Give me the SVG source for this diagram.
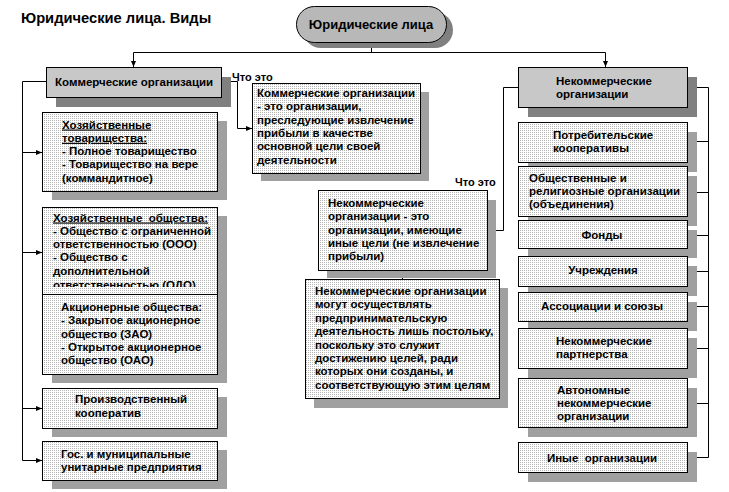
<svg xmlns="http://www.w3.org/2000/svg" width="729" height="492" viewBox="0 0 729 492">
<defs>
<pattern id="dots" width="2" height="2" patternUnits="userSpaceOnUse"><rect width="2" height="2" fill="#ffffff"/><rect width="1" height="1" fill="#b4b4b4"/></pattern>
<marker id="ar" viewBox="0 0 6 6" refX="6" refY="3" markerWidth="6" markerHeight="6" markerUnits="userSpaceOnUse" orient="auto"><path d="M0,0.5 L6,3 L0,5.5 z" fill="#000"/></marker>
<clipPath id="clipA"><rect x="42" y="207" width="175" height="80"/></clipPath>
</defs>
<style>
.t{font-family:"Liberation Sans",Arial,sans-serif;font-weight:bold;font-size:11.5px;fill:#000}
.m{text-anchor:middle}
.u{text-decoration:underline}
.box{fill:url(#dots);stroke:#000;stroke-width:1}
.sh{fill:#a0a0a0}
.hdr{fill:#c8c8c8;stroke:#000;stroke-width:1}
.hsh{fill:#808080}
.c{fill:none;stroke:#000;stroke-width:1}
.ca{fill:none;stroke:#000;stroke-width:1;marker-end:url(#ar)}
</style>
<rect width="729" height="492" fill="#fff"/>
<text id="title" class="t" x="21" y="23" style="font-size:14.7px">Юридические лица. Виды</text>

<g id="connectors">
<path class="c" d="M371.5,42 V52.5 M133.5,52.5 H605.5"/>
<path class="ca" d="M133.5,52.5 V67"/>
<path class="ca" d="M605.5,52.5 V67"/>
<path class="c" d="M46,81.5 H22.5 V460.5"/>
<path class="ca" d="M22.5,152.5 H42"/>
<path class="ca" d="M22.5,252.5 H42"/>
<path class="ca" d="M22.5,408.5 H42"/>
<path class="ca" d="M22.5,460.5 H42"/>
<path class="ca" d="M221,81.5 H237.5 V128.5 H252"/>
<path class="ca" d="M518,87.5 H503.5 V230.5 H487"/>
<path class="ca" d="M402.5,270 V279"/>
<path class="c" d="M687,87.5 H708.5 V457.5"/>
<path class="ca" d="M708.5,141.5 H687"/>
<path class="ca" d="M708.5,192.5 H687"/>
<path class="ca" d="M708.5,235.5 H687"/>
<path class="ca" d="M708.5,271.5 H687"/>
<path class="ca" d="M708.5,306.5 H687"/>
<path class="ca" d="M708.5,348.5 H687"/>
<path class="ca" d="M708.5,403.5 H687"/>
<path class="ca" d="M708.5,457.5 H687"/>
<text class="t" x="232" y="81" style="font-size:11px">Что это</text>
<text class="t" x="455" y="186" style="font-size:11px">Что это</text>
</g>

<g id="root">
<rect x="303" y="12" width="150" height="36" rx="18" fill="#808080"/>
<rect x="296.5" y="6.5" width="150" height="36" rx="18" fill="#b8b8b8" stroke="#000"/>
<text class="t m" x="371" y="29" style="font-size:13px">Юридические лица</text>
</g>

<g id="commercial">
<rect class="hsh" x="56" y="77" width="175" height="30"/>
<rect class="hdr" x="46.5" y="67.5" width="175" height="30"/>
<text class="t" x="55" y="86">Коммерческие организации</text>
</g>

<g id="nonprofit">
<rect class="hsh" x="528" y="77" width="169" height="40"/>
<rect class="hdr" x="518.5" y="67.5" width="169" height="40"/>
<text class="t" x="556" y="85">Некоммерческие</text>
<text class="t" x="556" y="98">организации</text>
</g>

<g id="commercial-def">
<rect class="sh" x="261" y="92" width="168" height="89"/>
<rect class="box" x="252.5" y="83.5" width="168" height="90"/>
<text class="t" x="257" y="97">Коммерческие организации</text>
<text class="t" x="257" y="110.3">- это организации,</text>
<text class="t" x="257" y="123.6">преследующие извлечение</text>
<text class="t" x="257" y="136.9">прибыли в качестве</text>
<text class="t" x="257" y="150.2">основной цели своей</text>
<text class="t" x="257" y="163.5">деятельности</text>
</g>

<g id="nonprofit-def">
<rect class="sh" x="327" y="200" width="169" height="78"/>
<rect class="box" x="318.5" y="190.5" width="169" height="80"/>
<text class="t" x="328" y="207">Некоммерческие</text>
<text class="t" x="328" y="220.3">организации - это</text>
<text class="t" x="328" y="233.6">организации, имеющие</text>
<text class="t" x="328" y="246.9">иные цели (не извлечение</text>
<text class="t" x="328" y="260.2">прибыли)</text>
</g>

<g id="nonprofit-activity">
<rect class="sh" x="314" y="288" width="194" height="120"/>
<rect class="box" x="305.5" y="279.5" width="194" height="119"/>
<text class="t" x="315" y="295">Некоммерческие организации</text>
<text class="t" x="315" y="308.4">могут осуществлять</text>
<text class="t" x="315" y="321.8">предпринимательскую</text>
<text class="t" x="315" y="335.2">деятельность лишь постольку,</text>
<text class="t" x="315" y="348.6">поскольку это служит</text>
<text class="t" x="315" y="362">достижению целей, ради</text>
<text class="t" x="315" y="375.4">которых они созданы, и</text>
<text class="t" x="315" y="388.8">соответствующую этим целям</text>
</g>

<g id="partnerships">
<rect class="sh" x="52" y="121" width="175" height="79"/>
<rect class="box" x="42.5" y="112.5" width="175" height="79"/>
<text class="t u" x="62" y="128.5">Хозяйственные</text>
<text class="t u" x="62" y="141.8">товарищества:</text>
<text class="t" x="62" y="155.1">- Полное товарищество</text>
<text class="t" x="62" y="168.4">- Товарищество на вере</text>
<text class="t" x="62" y="181.7">(коммандитное)</text>
</g>

<g id="societies">
<rect class="sh" x="52" y="216" width="175" height="167"/>
<rect class="box" x="42.5" y="207.5" width="175" height="87"/>
<g clip-path="url(#clipA)">
<text class="t u" x="53" y="221.5" style="white-space:pre">Хозяйственные  общества:</text>
<text class="t" x="53" y="234.8">- Общество с ограниченной</text>
<text class="t" x="53" y="248.1">ответственностью (ООО)</text>
<text class="t" x="53" y="261.4">- Общество с</text>
<text class="t" x="53" y="274.7">дополнительной</text>
<text class="t" x="53" y="289">ответственностью (ОДО)</text>
</g>
</g>

<g id="joint-stock">
<rect class="box" x="42.5" y="294.5" width="175" height="80"/>
<text class="t" x="61" y="311">Акционерные общества:</text>
<text class="t" x="61" y="324.3">- Закрытое акционерное</text>
<text class="t" x="61" y="337.6">общество (ЗАО)</text>
<text class="t" x="61" y="350.9">- Открытое акционерное</text>
<text class="t" x="61" y="364.2">общество (ОАО)</text>
</g>

<g id="coop">
<rect class="sh" x="52" y="397" width="175" height="40"/>
<rect class="box" x="42.5" y="388.5" width="175" height="40"/>
<text class="t" x="75" y="403.3">Производственный</text>
<text class="t" x="75" y="416.6">кооператив</text>
</g>

<g id="unitary">
<rect class="sh" x="52" y="450" width="175" height="39"/>
<rect class="box" x="42.5" y="441.5" width="175" height="39"/>
<text class="t" x="61" y="458">Гос. и муниципальные</text>
<text class="t" x="61" y="471.3">унитарные предприятия</text>
</g>

<g id="consumer-coops">
<rect class="sh" x="528" y="132" width="169" height="40"/>
<rect class="box" x="518.5" y="122.5" width="169" height="40"/>
<text class="t" x="553" y="138.5">Потребительские</text>
<text class="t" x="553" y="151.8">кооперативы</text>
</g>

<g id="public-religious">
<rect class="sh" x="528" y="176" width="169" height="50"/>
<rect class="box" x="518.5" y="166.5" width="169" height="50"/>
<text class="t" x="529" y="181.5">Общественные и</text>
<text class="t" x="529" y="194.8">религиозные организации</text>
<text class="t" x="529" y="208.1">(объединения)</text>
</g>

<g id="funds">
<rect class="sh" x="528" y="230" width="169" height="28"/>
<rect class="box" x="518.5" y="220.5" width="169" height="28"/>
<text class="t m" x="602" y="238.5">Фонды</text>
</g>

<g id="institutions">
<rect class="sh" x="528" y="266" width="169" height="30"/>
<rect class="box" x="518.5" y="256.5" width="169" height="30"/>
<text class="t m" x="603" y="274">Учреждения</text>
</g>

<g id="associations">
<rect class="sh" x="528" y="302" width="169" height="29"/>
<rect class="box" x="518.5" y="292.5" width="169" height="29"/>
<text class="t m" x="602" y="309.5">Ассоциации и союзы</text>
</g>

<g id="np-partnerships">
<rect class="sh" x="528" y="338" width="169" height="40"/>
<rect class="box" x="518.5" y="328.5" width="169" height="40"/>
<text class="t" x="556" y="344.5">Некоммерческие</text>
<text class="t" x="556" y="357.8">партнерства</text>
</g>

<g id="autonomous">
<rect class="sh" x="528" y="388" width="169" height="49"/>
<rect class="box" x="518.5" y="378.5" width="169" height="49"/>
<text class="t" x="557" y="393.5">Автономные</text>
<text class="t" x="557" y="406.8">некоммерческие</text>
<text class="t" x="557" y="420.1">организации</text>
</g>

<g id="other">
<rect class="sh" x="528" y="452" width="169" height="30"/>
<rect class="box" x="518.5" y="442.5" width="169" height="30"/>
<text class="t m" x="602" y="461.5" style="white-space:pre">Иные  организации</text>
</g>
</svg>
